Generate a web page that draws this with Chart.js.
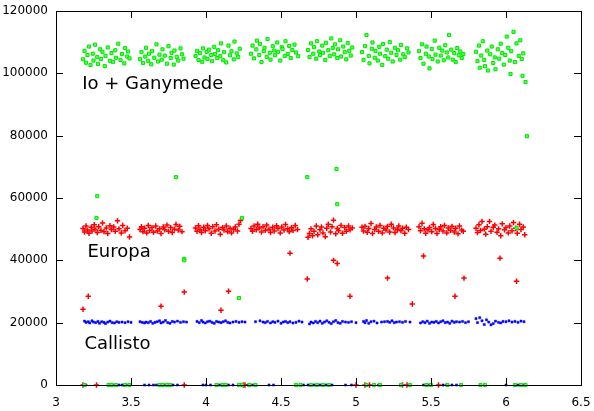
<!DOCTYPE html>
<html>
<head>
<meta charset="utf-8">
<script src="https://cdn.jsdelivr.net/npm/chart.js@4.4.0/dist/chart.umd.min.js"></script>
<style>
  html, body { margin: 0; padding: 0; background: #fff; }
  #wrap { width: 594px; height: 411px; }
</style>
</head>
<body>
<div id="wrap"><canvas id="myChart" width="594" height="411"></canvas></div>
<script>
// Io + Ganymede band (green)
var ioX = [
  3.18,3.19,3.20,3.21,3.22,3.23,3.245,3.25,3.26,3.275,3.28,3.295,3.30,3.31,3.325,3.33,3.345,3.36,3.37,3.38,3.395,3.40,3.415,3.43,3.44,3.455,3.46,3.475,3.48,3.49,
  3.56,3.57,3.58,3.595,3.60,3.615,3.62,3.635,3.64,3.655,3.67,3.68,3.69,3.705,3.71,3.725,3.74,3.75,3.765,3.77,3.785,3.79,3.805,3.815,3.83,3.84,3.85,
  3.93,3.94,3.95,3.96,3.975,3.98,3.99,4.005,4.01,4.02,4.035,4.04,4.055,4.06,4.075,4.08,4.095,4.10,4.115,4.12,4.135,4.15,4.16,4.17,4.185,4.19,4.205,4.215,4.225,
  4.30,4.31,4.32,4.335,4.34,4.355,4.36,4.37,4.385,4.39,4.405,4.41,4.425,4.43,4.445,4.455,4.46,4.475,4.48,4.495,4.505,4.51,4.525,4.53,4.545,4.555,4.565,4.575,4.59,4.60,4.615,
  4.68,4.69,4.70,4.715,4.72,4.735,4.74,4.755,4.76,4.775,4.78,4.795,4.80,4.815,4.825,4.835,4.845,4.855,4.86,4.875,4.88,4.895,4.90,4.915,4.925,4.935,4.945,4.955,4.965,4.975,
  5.04,5.05,5.06,5.07,5.085,5.09,5.105,5.11,5.125,5.13,5.145,5.155,5.16,5.175,5.18,5.195,5.205,5.215,5.225,5.235,5.245,5.26,5.27,5.28,5.295,5.30,5.315,5.325,5.34,5.35,
  5.42,5.43,5.44,5.45,5.465,5.47,5.485,5.49,5.505,5.51,5.525,5.53,5.545,5.555,5.565,5.575,5.585,5.595,5.605,5.615,5.62,5.635,5.645,5.655,5.665,5.675,5.685,5.695,5.705,5.715,
  5.80,5.81,5.82,5.825,5.835,5.845,5.855,5.86,5.875,5.88,5.895,5.905,5.915,5.925,5.93,5.945,5.955,5.965,5.975,5.985,5.995,6.005,6.015,6.025,6.035,6.05,6.06,6.07,6.085,6.095,6.105,6.115
];
var ioY = [
  104500,107200,103400,105900,108600,102700,106300,104100,109200,105200,103000,107700,104600,106900,102300,105600,108300,104000,106500,103700,107400,105000,109500,104300,106200,103200,108100,105400,107000,104800,
  104600,106800,103300,105400,108200,104000,106300,102900,107100,105000,109300,103800,106000,104400,107700,105700,103100,108700,104900,106600,102800,107300,105300,104100,108000,106100,104700,
  105600,107200,104300,106500,103700,108000,105100,106900,104600,107600,105900,103900,108500,106200,104900,107400,105500,109600,104200,106800,103500,108900,105800,107100,104500,110200,106400,105200,107900,
  106300,108900,104800,107700,110500,105900,109400,103600,107100,108200,105300,111000,106600,104400,108700,107300,105800,109900,106900,104100,108400,107800,105600,110300,106200,108800,104900,107500,109200,106700,105500,
  107500,105200,109600,106300,108400,104700,110300,107000,105900,108900,106600,104300,109800,107400,105600,111200,108100,106100,109300,104900,107700,110600,105400,108600,106800,104500,109700,107200,105700,108300,
  106800,104300,108700,112300,105600,103200,107900,109900,105000,107200,104100,108500,106300,102700,109400,105500,107600,104700,110000,106600,103800,108200,105900,107400,104400,109100,106100,105200,108000,106700,
  107100,104900,109300,103100,106300,108600,105400,101600,107800,104600,110500,106000,103800,108200,105700,107300,104200,109000,106700,105100,112300,107600,104400,106500,103600,108100,105800,107000,104900,106200,
  106900,103900,108900,101800,105700,110300,104300,102300,107300,100900,106100,108600,103300,105100,101300,107700,104700,109500,106500,102800,105900,111800,108200,104100,107100,113300,103600,109600,105600,110600,104600,106400
];
var ioOutX = [3.275,3.27,3.80,3.855,3.855,4.22,4.24,4.675,4.87,4.875,6.03,6.11,6.13,6.14,6.07];
var ioOutY = [60600,53600,66700,40500,40000,27900,53600,66700,69300,58000,99800,99200,97200,79800,50400];
var ioZeroX = [3.19,3.35,3.37,3.40,3.46,3.49,3.69,3.71,3.74,3.76,4.07,4.11,4.13,4.22,4.24,4.29,4.33,4.60,4.63,4.70,4.74,4.78,4.82,5.07,5.12,5.16,5.30,5.36,5.47,5.50,5.61,5.70,5.83,5.86,6.06,6.10,6.13];

// Europa band (red)
var euX = [
  3.18,3.19,3.20,3.21,3.22,3.235,3.24,3.255,3.26,3.275,3.285,3.30,3.31,3.32,3.335,3.345,3.36,3.37,3.385,3.395,3.41,3.42,3.435,3.445,3.46,3.475,3.49,
  3.56,3.57,3.58,3.59,3.605,3.615,3.625,3.64,3.65,3.665,3.675,3.69,3.70,3.715,3.725,3.74,3.75,3.765,3.775,3.79,3.80,3.815,3.825,3.84,
  3.93,3.94,3.95,3.96,3.97,3.985,3.995,4.01,4.02,4.035,4.045,4.06,4.07,4.085,4.095,4.11,4.12,4.135,4.145,4.16,4.17,4.185,4.195,4.21,4.22,4.23,
  4.30,4.31,4.32,4.335,4.345,4.355,4.37,4.38,4.395,4.405,4.42,4.43,4.445,4.455,4.47,4.48,4.495,4.505,4.52,4.53,4.545,4.555,4.57,4.58,4.595,4.61,
  4.68,4.69,4.70,4.71,4.72,4.735,4.745,4.76,4.77,4.78,4.795,4.805,4.815,4.83,4.84,4.85,4.865,4.875,4.885,4.90,4.91,4.925,4.935,4.95,4.96,4.975,
  5.04,5.05,5.06,5.075,5.085,5.10,5.11,5.125,5.135,5.15,5.16,5.175,5.185,5.20,5.21,5.225,5.235,5.25,5.26,5.275,5.285,5.30,5.31,5.325,5.335,5.35,
  5.42,5.43,5.44,5.455,5.465,5.48,5.49,5.505,5.515,5.53,5.54,5.555,5.565,5.58,5.59,5.605,5.615,5.63,5.64,5.655,5.665,5.68,5.69,5.705,5.715,
  5.80,5.81,5.82,5.83,5.84,5.855,5.865,5.875,5.89,5.90,5.915,5.925,5.94,5.95,5.965,5.975,5.99,6.00,6.015,6.025,6.04,6.05,6.065,6.075,6.09,6.10,6.115,6.125
];
var euY = [
  50200,49100,51000,49700,48700,50600,49400,51400,50000,48900,50800,49600,52000,49200,50400,48600,51100,49900,50700,49300,52700,50100,48800,51200,49500,50300,47500,
  49900,50800,49200,50300,48800,51200,49600,50500,49000,51000,49400,50100,48600,50700,49800,51300,49300,50500,48900,50000,51500,49700,50900,49200,
  50400,49300,51100,49900,48900,50600,49500,51200,50100,48700,50800,49400,51400,50000,48400,50500,49700,51000,49200,50300,48800,49900,50700,49400,51600,52800,
  50200,49300,51000,49800,51600,50400,49100,50800,49600,51300,50000,48900,50600,49400,51100,50200,48800,50700,49700,51500,50100,49200,50500,49600,51200,49900,
  47400,48600,50100,47900,49300,51000,48200,49800,50700,48800,47600,50300,51600,49100,50800,52900,48500,50200,49600,51200,48700,50500,49300,51000,49800,50400,
  50600,49400,50900,49000,50200,51800,48600,49900,50700,49300,51200,48800,50300,49700,50900,49100,51600,50400,48900,49900,51000,49500,50300,48700,50600,49900,
  50800,49500,51900,50100,48700,49800,50500,49200,51500,50200,48600,49900,50800,49400,51200,48800,50400,49600,50900,49100,50300,48500,51000,49700,49300,
  50300,48900,51400,49600,52500,50000,48400,50800,52500,49300,50600,51300,49000,50100,47900,51700,49800,50500,48800,51000,49500,52100,50300,48700,51600,49900,50700,48200
];
var euOutX = [3.18,3.215,3.70,3.855,4.10,4.15,4.56,4.675,4.85,4.875,4.96,5.21,5.375,5.45,5.66,5.72,5.96,6.07];
var euOutY = [24300,28500,25300,29800,24000,30100,42300,34000,40000,39000,28500,34300,26000,41400,28500,34300,40700,33300];
var euZeroX = [3.18,3.27,3.855,4.25,4.26,5.00,5.06,5.09,5.31,5.34,5.55];

// Callisto band (blue)
var caX = [
  3.19,3.20,3.215,3.225,3.24,3.25,3.265,3.28,3.29,3.305,3.32,3.33,3.345,3.36,3.375,3.39,3.405,3.42,3.44,3.46,3.48,3.50,
  3.56,3.575,3.59,3.60,3.615,3.63,3.645,3.66,3.675,3.69,3.70,3.715,3.73,3.745,3.76,3.775,3.79,3.81,3.83,3.85,3.87,
  3.94,3.955,3.97,3.98,3.995,4.01,4.025,4.04,4.055,4.07,4.085,4.10,4.115,4.13,4.145,4.16,4.18,4.20,4.22,4.24,4.26,
  4.33,4.36,4.38,4.395,4.41,4.43,4.445,4.46,4.48,4.50,4.515,4.53,4.545,4.56,4.58,4.60,4.62,4.64,
  4.69,4.70,4.715,4.73,4.745,4.76,4.775,4.79,4.805,4.82,4.835,4.85,4.865,4.88,4.895,4.91,4.93,4.95,4.97,5.00,
  5.05,5.06,5.07,5.085,5.10,5.12,5.14,5.17,5.19,5.21,5.225,5.24,5.255,5.27,5.29,5.31,5.33,5.36,
  5.43,5.445,5.46,5.475,5.49,5.505,5.52,5.535,5.55,5.565,5.58,5.595,5.61,5.625,5.64,5.655,5.67,5.69,5.71,5.73,5.75,
  5.80,5.81,5.825,5.84,5.855,5.87,5.885,5.90,5.915,5.93,5.95,5.965,5.98,6.00,6.02,6.04,6.06,6.08,6.10,6.12
];
var caY = [
  20500,20100,20300,19900,20600,20200,20000,20400,19800,20300,20100,19700,20200,20500,20000,19900,20300,20100,20200,20000,20300,20100,
  20300,20100,19900,20200,20000,20400,19800,20100,20300,20600,19900,20200,20700,20000,19800,20400,20200,20500,20100,20300,20200,
  20400,20000,20700,20200,19900,20300,20500,20100,19800,20400,20200,20000,20300,20600,20100,19900,20200,20400,20100,20300,20200,
  20300,20600,20200,20000,20400,19900,20300,20100,20500,19800,20200,20400,20000,20300,19900,20100,20500,20200,
  19600,20200,19900,20400,20000,20500,19800,20200,20600,20100,19700,20300,20700,20000,19800,20400,20200,20100,20300,20000,
  20400,20000,20700,19800,20300,20500,19900,20200,20300,20400,20100,20600,20000,20200,20300,20100,20400,20200,
  19900,20300,20000,20500,19800,20200,20100,20400,19900,20300,20600,20000,20200,19800,20500,20100,20300,20200,20400,20000,20300,
  21300,20000,21600,20600,19400,20900,20200,19300,19700,20500,20100,19900,20400,20300,20600,20200,20400,20100,20500,20300
];
var caZeroX = [3.20,3.36,3.39,3.42,3.44,3.47,3.59,3.62,3.65,3.67,3.72,3.78,3.81,3.98,4.00,4.03,4.09,4.15,4.18,4.28,4.31,4.42,4.45,4.65,4.68,4.72,4.76,4.80,4.84,4.93,4.97,5.15,5.45,5.48,5.58,5.60,5.64,5.67,6.00,6.08,6.12];

// axis ticks
var xTicks = [3, 3.5, 4, 4.5, 5, 5.5, 6, 6.5];
var yTicks = [0, 20000, 40000, 60000, 80000, 100000, 120000];

// in-plot labels
var bandNames = ['Io + Ganymede', 'Europa', 'Callisto'];
var bandLabelX = [3.175, 3.21, 3.19];
var bandLabelY = [96600, 42700, 13200];

function pts(xs, ys) {
  var out = [];
  for (var i = 0; i < xs.length; i++) out.push({x: xs[i], y: ys[i]});
  return out;
}
function zeros(xs) {
  var out = [];
  for (var i = 0; i < xs.length; i++) out.push({x: xs[i], y: 0});
  return out;
}

var green = {pointStyle: 'rect', pointRadius: 2.2, backgroundColor: '#55ff55', borderColor: '#00e600', pointBorderWidth: 1};
var red = {pointStyle: 'cross', pointRadius: 2.7, backgroundColor: '#ff0000', borderColor: '#ff0000', pointBorderWidth: 1.5};
var blue = {pointStyle: 'rect', pointRadius: 1.5, backgroundColor: '#0000ff', borderColor: '#0000ff', pointBorderWidth: 0.5};

function ds(data, st) {
  return Object.assign({data: data, showLine: false, clip: false, pointHoverRadius: 0}, st);
}

// gnuplot-like frame with inward ticks on all four sides
var framePlugin = {
  id: 'frame',
  afterDatasetsDraw: function (chart) {
    var c = chart.ctx, a = chart.chartArea;
    var xs = chart.scales.x, ys = chart.scales.y, L = 7;
    c.save();
    c.strokeStyle = '#000';
    c.lineWidth = 1;
    c.beginPath();
    xTicks.forEach(function (v) {
      var p = Math.round(xs.getPixelForValue(v)) + 0.5;
      c.moveTo(p, a.bottom); c.lineTo(p, a.bottom - L);
      c.moveTo(p, a.top); c.lineTo(p, a.top + L);
    });
    yTicks.forEach(function (v) {
      var p = Math.round(ys.getPixelForValue(v)) + 0.5;
      c.moveTo(a.left, p); c.lineTo(a.left + L, p);
      c.moveTo(a.right, p); c.lineTo(a.right - L, p);
    });
    c.stroke();
    c.strokeRect(Math.round(a.left) + 0.5, Math.round(a.top) + 0.5, Math.round(a.right - a.left), Math.round(a.bottom - a.top));
    c.fillStyle = '#000';
    c.font = '18px "DejaVu Sans"';
    c.textBaseline = 'middle';
    c.textAlign = 'left';
    for (var i = 0; i < bandNames.length; i++) {
      c.fillText(bandNames[i], xs.getPixelForValue(bandLabelX[i]), ys.getPixelForValue(bandLabelY[i]));
    }
    c.restore();
  }
};

var ctx = document.getElementById('myChart').getContext('2d');
var myChart = new Chart(ctx, {
  type: 'scatter',
  data: {
    datasets: [
      ds(pts(ioX, ioY), green),
      ds(pts(ioOutX, ioOutY), green),
      ds(pts(euX, euY), red),
      ds(pts(euOutX, euOutY), red),
      ds(pts(caX, caY), blue),
      ds(zeros(ioZeroX), green),
      ds(zeros(caZeroX), blue),
      ds(zeros(euZeroX), red)
    ]
  },
  options: {
    responsive: false,
    animation: false,
    events: [],
    layout: {padding: {left: 0, top: 11, right: 13, bottom: 0}},
    plugins: {legend: {display: false}, tooltip: {enabled: false}, title: {display: false}},
    scales: {
      x: {
        type: 'linear', min: 3, max: 6.5,
        afterBuildTicks: function (s) { s.ticks = xTicks.map(function (v) { return {value: v}; }); },
        afterFit: function (s) { s.height = 26; s.paddingLeft = 0; s.paddingRight = 0; },
        grid: {display: false, drawTicks: false},
        border: {display: false},
        ticks: {color: '#000', font: {family: 'DejaVu Sans', size: 12}, padding: 11, maxRotation: 0, autoSkip: false,
          callback: function (v) { return String(v); }}
      },
      y: {
        type: 'linear', min: 0, max: 120000,
        afterBuildTicks: function (s) { s.ticks = yTicks.map(function (v) { return {value: v}; }); },
        afterFit: function (s) { s.width = 56; s.paddingTop = 0; s.paddingBottom = 0; },
        grid: {display: false, drawTicks: false},
        border: {display: false},
        ticks: {color: '#000', font: {family: 'DejaVu Sans', size: 12}, padding: 8,
          callback: function (v) { return String(v); }}
      }
    }
  },
  plugins: [framePlugin]
});
</script>
</body>
</html>
